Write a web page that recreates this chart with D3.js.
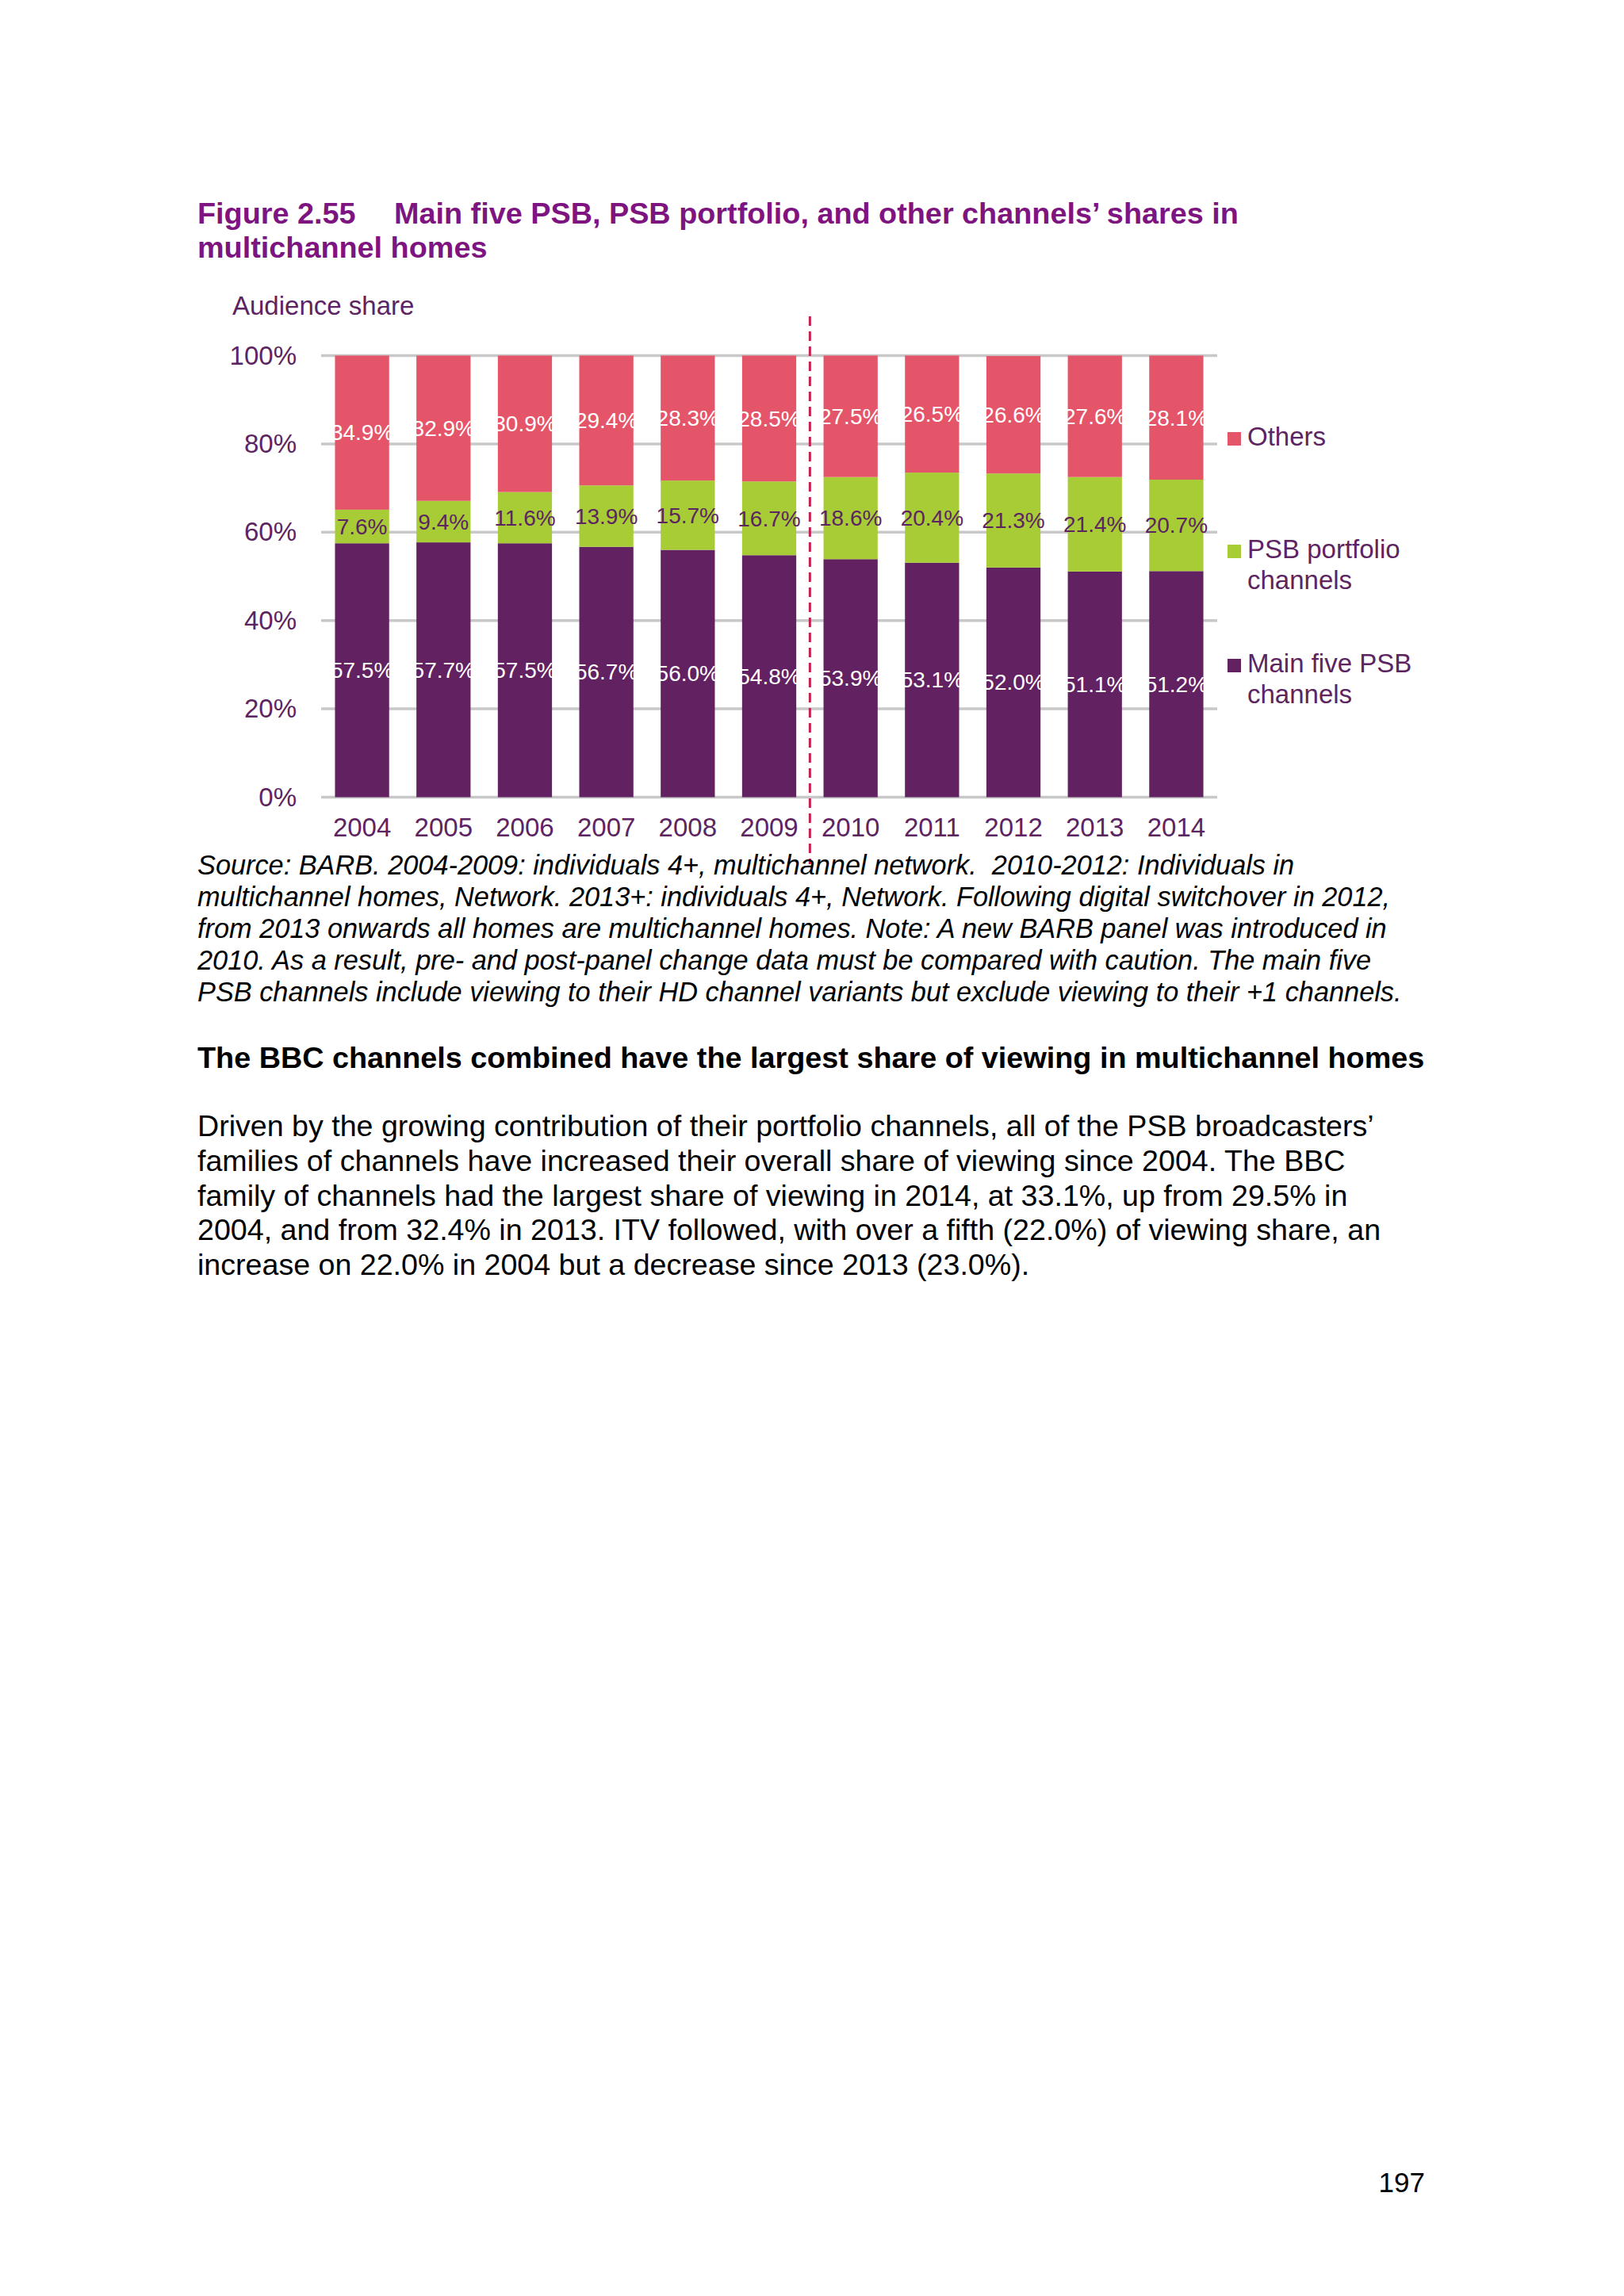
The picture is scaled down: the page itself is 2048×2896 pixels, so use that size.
<!DOCTYPE html>
<html>
<head>
<meta charset="utf-8">
<script src="https://cdn.jsdelivr.net/npm/d3@7"></script>
<style>
  body { margin: 0; background: #fff; }
  svg { display: block; font-family: "Liberation Sans", Arial, sans-serif; }
</style>
</head>
<body>
<script>
// chart data
var years = ["2004", "2005", "2006", "2007", "2008", "2009", "2010", "2011", "2012", "2013", "2014"];
var mainFive = [57.5, 57.7, 57.5, 56.7, 56.0, 54.8, 53.9, 53.1, 52.0, 51.1, 51.2];
var portfolio = [7.6, 9.4, 11.6, 13.9, 15.7, 16.7, 18.6, 20.4, 21.3, 21.4, 20.7];
var others = [34.9, 32.9, 30.9, 29.4, 28.3, 28.5, 27.5, 26.5, 26.6, 27.6, 28.1];
var yTicks = [0, 20, 40, 60, 80, 100];
var legendLines = [["Others"], ["PSB portfolio", "channels"], ["Main five PSB", "channels"]];

var colMain = "#622262", colPort = "#a8cc36", colOther = "#e55569";
var txtPurple = "#5c2561";

var W = 2048, H = 2896;
var svg = d3.select("body").append("svg").attr("width", W).attr("height", H);
svg.append("rect").attr("width", W).attr("height", H).attr("fill", "#fff");

// font size that makes a string span a given width
function fitSize(str, target, weight, style) {
  var t = svg.append("text").attr("font-size", 100).attr("font-weight", weight || "normal")
    .attr("font-style", style || "normal").style("white-space", "pre").text(str);
  var w = t.node().getComputedTextLength();
  t.remove();
  return 100 * target / w;
}

// title
var titleA = "Figure 2.55";
var titleB = "Main five PSB, PSB portfolio, and other channels\u2019 shares in";
var titleSize = fitSize(titleB, 1562 - 497, "bold");
var title = svg.append("text").attr("fill", "#7d1480").attr("font-weight", "bold").attr("font-size", titleSize);
title.append("tspan").attr("x", 249).attr("y", 282).text(titleA);
title.append("tspan").attr("x", 497).attr("y", 282).text(titleB);
title.append("tspan").attr("x", 249).attr("y", 325).text("multichannel homes");

// scales
var x = d3.scaleBand().domain(years).range([405, 1535]).paddingInner(0.335).paddingOuter(0.17);
var y = d3.scaleLinear().domain([0, 100]).range([1005.5, 448.5]);

svg.append("text").attr("x", 293).attr("y", 397).attr("font-size", 33).attr("fill", txtPurple).text("Audience share");

// gridlines
svg.append("g").selectAll("line").data(yTicks).enter().append("line")
  .attr("x1", 405).attr("x2", 1535)
  .attr("y1", function(d) { return y(d); }).attr("y2", function(d) { return y(d); })
  .attr("stroke", "#c8c8c8").attr("stroke-width", 3.5);

// y axis
var yAxis = svg.append("g").attr("transform", "translate(405,0)")
  .call(d3.axisLeft(y).tickValues(yTicks).tickSize(0).tickPadding(31).tickFormat(function(d) { return d + "%"; }));
yAxis.select(".domain").remove();
yAxis.attr("font-family", null);
yAxis.selectAll("text").attr("font-size", 33).attr("fill", txtPurple);

// stacked data
var rows = years.map(function(yr, i) {
  return { year: yr, main: mainFive[i], port: portfolio[i], other: others[i] };
});
var stack = d3.stack().keys(["main", "port", "other"])(rows);
var colors = [colMain, colPort, colOther];
var labelColors = ["#fff", txtPurple, "#fff"];

var defs = svg.append("defs");
years.forEach(function(yr, i) {
  defs.append("clipPath").attr("id", "clip" + i).append("rect")
    .attr("x", x(yr) - 1).attr("y", 0).attr("width", x.bandwidth() + 4).attr("height", H);
});

stack.forEach(function(layer, li) {
  var g = svg.append("g");
  g.selectAll("rect").data(layer).enter().append("rect")
    .attr("x", function(d) { return x(d.data.year); })
    .attr("width", x.bandwidth())
    .attr("y", function(d) { return y(Math.min(d[1], 100)); })
    .attr("height", function(d) { return y(d[0]) - y(Math.min(d[1], 100)); })
    .attr("fill", colors[li]);
  g.selectAll("text").data(layer).enter().append("text")
    .attr("x", function(d) { return x(d.data.year) + x.bandwidth() / 2; })
    .attr("y", function(d) { return y((d[0] + d[1]) / 2); })
    .attr("dy", "0.35em")
    .attr("text-anchor", "middle")
    .attr("font-size", 28)
    .attr("fill", labelColors[li])
    .attr("clip-path", function(d, i) { return li === 1 ? null : "url(#clip" + i + ")"; })
    .text(function(d) { return d3.format(".1f")(d[1] - d[0]) + "%"; });
});

// x axis
var xAxis = svg.append("g").attr("transform", "translate(0," + y(0) + ")")
  .call(d3.axisBottom(x).tickSize(0).tickPadding(26));
xAxis.select(".domain").remove();
xAxis.attr("font-family", null);
xAxis.selectAll("text").attr("font-size", 33).attr("fill", txtPurple);

// panel change divider, midway between 2009 and 2010
var divX = x("2010") - (x.step() - x.bandwidth()) / 2;
svg.append("line").attr("x1", divX).attr("x2", divX).attr("y1", 399).attr("y2", 1090)
  .attr("stroke", "#c81e50").attr("stroke-width", 3).attr("stroke-dasharray", "12,7");

// legend
var legY = [562, 704, 848];
var legCols = [colOther, colPort, colMain];
legendLines.forEach(function(lines, i) {
  svg.append("rect").attr("x", 1548).attr("y", legY[i] - 17).attr("width", 17).attr("height", 17).attr("fill", legCols[i]);
  var t = svg.append("text").attr("font-size", 33).attr("fill", txtPurple);
  lines.forEach(function(s, j) {
    t.append("tspan").attr("x", 1573).attr("y", legY[i] + j * 39).text(s);
  });
});

// source note
var sourceLines = [
  "Source: BARB. 2004-2009: individuals 4+, multichannel network.  2010-2012: Individuals in",
  "multichannel homes, Network. 2013+: individuals 4+, Network. Following digital switchover in 2012,",
  "from 2013 onwards all homes are multichannel homes. Note: A new BARB panel was introduced in",
  "2010. As a result, pre- and post-panel change data must be compared with caution. The main five",
  "PSB channels include viewing to their HD channel variants but exclude viewing to their +1 channels."
];
var srcSize = fitSize(sourceLines[4], 1768 - 249, "normal", "italic");
var src = svg.append("text").attr("font-size", srcSize).attr("font-style", "italic").attr("fill", "#000")
  .style("white-space", "pre");
sourceLines.forEach(function(s, i) {
  src.append("tspan").attr("x", 249).attr("y", 1103 + i * 40).text(s);
});

var heading = "The BBC channels combined have the largest share of viewing in multichannel homes";
svg.append("text").attr("x", 249).attr("y", 1347).attr("font-weight", "bold").attr("fill", "#000")
  .attr("font-size", fitSize(heading, 1797 - 249, "bold"))
  .text(heading);

var bodyLines = [
  "Driven by the growing contribution of their portfolio channels, all of the PSB broadcasters\u2019",
  "families of channels have increased their overall share of viewing since 2004. The BBC",
  "family of channels had the largest share of viewing in 2014, at 33.1%, up from 29.5% in",
  "2004, and from 32.4% in 2013. ITV followed, with over a fifth (22.0%) of viewing share, an",
  "increase on 22.0% in 2004 but a decrease since 2013 (23.0%)."
];
var body = svg.append("text").attr("font-size", fitSize(bodyLines[0], 1733 - 249)).attr("fill", "#000");
bodyLines.forEach(function(s, i) {
  body.append("tspan").attr("x", 249).attr("y", 1433 + i * 43.8).text(s);
});

svg.append("text").attr("x", 1797).attr("y", 2765).attr("text-anchor", "end").attr("font-size", 35).attr("fill", "#000").text("197");
</script>
</body>
</html>
